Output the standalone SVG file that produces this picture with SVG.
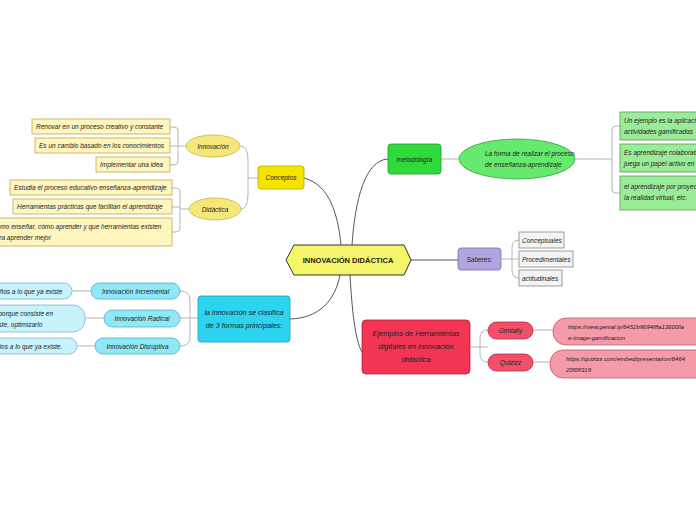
<svg xmlns="http://www.w3.org/2000/svg" width="696" height="520" viewBox="0 0 696 520">
<style>
text{font-family:"Liberation Sans",Arial,sans-serif;font-style:italic;font-size:6.5px;fill:#222}
.c{text-anchor:middle}
.main{fill:none;stroke:#555;stroke-width:1}
.br{fill:none;stroke:#b5b5b5;stroke-width:1}
.ylw{fill:#fff6bf;stroke:#b9ab50;stroke-width:0.8}
.cyn{fill:#c7f4fb;stroke:#7fb8c4;stroke-width:0.8}
.grn{fill:#9bec99;stroke:#5a9a58;stroke-width:0.8}
.gry{fill:#f4f4f4;stroke:#888;stroke-width:0.8}
</style>
<rect width="696" height="520" fill="#ffffff"/>
<g id="connectors">
<path class="main" d="M304,178 C330,185 338,215 341,245"/>
<path class="main" d="M352,245 C355,200 365,160 388,159"/>
<path class="main" d="M411,260 H458"/>
<path class="main" d="M340,275 C335,300 320,318 290,319"/>
<path class="main" d="M350,275 C352,310 355,340 362,352"/>
<path class="br" d="M240,146 Q248,146 248,160 V194 Q248,209 241,209 M248,178 H258"/>
<path class="br" d="M170,127 H174 Q178,127 178,131 V161 Q178,165 174,165 H170 M170,146 H186"/>
<path class="br" d="M172,188 H176 Q180,188 180,192 V228 Q180,232 176,232 H172 M172,207 H180 M180,209 H189"/>
<path class="br" d="M180,291 Q190,291 190,300 V337 Q190,346 180,346 M180,318 H198"/>
<path class="br" d="M72,291 H91 M85,318 H104 M77,346 H95"/>
<path class="br" d="M441,159 H459 M575,159 H612 M620,126 H616 Q612,126 612,130 V189 Q612,193 616,193 H620"/>
<path class="br" d="M519,240 Q512,240 512,248 V270 Q512,278 519,278 M501,259 H519"/>
<path class="br" d="M488,330 Q480,330 480,338 V354 Q480,362 488,362 M470,347 H488"/>
<path class="br" d="M533,330 H553 M533,362 H550"/>
</g>
<g id="center">
<polygon points="286,260 294,245 404,245 411,260 404,275 294,275" fill="#f5f56a" stroke="#333" stroke-width="1"/>
<text class="c" x="348" y="263" style="font-style:normal;font-weight:bold;font-size:7.5px">INNOVACIÓN DIDÁCTICA</text>
</g>
<g id="conceptos">
<rect x="258" y="166" width="46" height="23" rx="3" fill="#f5e400" stroke="#b8a800" stroke-width="0.8"/>
<text class="c" x="281" y="180">Conceptos</text>
</g>
<g id="innovacion">
<ellipse cx="213" cy="146" rx="27" ry="11" fill="#f7e77a" stroke="#c7b64a" stroke-width="0.8"/>
<text class="c" x="213" y="148.5">Innovación</text>
</g>
<g id="didactica">
<ellipse cx="215" cy="209" rx="26" ry="11" fill="#f7e77a" stroke="#c7b64a" stroke-width="0.8"/>
<text class="c" x="215" y="211.5">Didáctica</text>
</g>
<g id="i1"><rect class="ylw" x="32" y="119" width="138" height="15"/><text x="36" y="129">Renovar en un proceso creativo y constante</text></g>
<g id="i2"><rect class="ylw" x="35" y="138" width="135" height="15"/><text x="39" y="148">Es un cambio basado en los conocimientos</text></g>
<g id="i3"><rect class="ylw" x="96" y="157" width="74" height="15"/><text x="100" y="167">Implementar una idea</text></g>
<g id="d1"><rect class="ylw" x="10" y="180" width="162" height="15"/><text x="14" y="190">Estudia el proceso educativo enseñanza-aprendizaje</text></g>
<g id="d2"><rect class="ylw" x="13" y="199" width="159" height="15"/><text x="17" y="209">Herramientas prácticas que facilitan el aprendizaje</text></g>
<g id="d3"><rect class="ylw" x="-60" y="218" width="232" height="28"/><text x="-8" y="229">Cómo enseñar, cómo aprender y que herramientas existen</text><text x="-8" y="240">para aprender mejor</text></g>
<g id="clasifica">
<rect x="198" y="296" width="92" height="46" rx="3" fill="#2dd4ef" stroke="#1a9fb5" stroke-width="0.8"/>
<text class="c" x="244" y="315" style="font-size:7.2px">la innovación se clasifica</text>
<text class="c" x="244" y="328" style="font-size:7.2px">de 3 formas principales:</text>
</g>
<g id="incremental"><rect x="91" y="283" width="89" height="16" rx="8" fill="#8ee8f8" stroke="#4fb2c4" stroke-width="0.8"/><text class="c" x="135.5" y="293.5">Innovación Incremental</text></g>
<g id="radical"><rect x="104" y="310" width="76" height="17" rx="8.5" fill="#8ee8f8" stroke="#4fb2c4" stroke-width="0.8"/><text class="c" x="142" y="321">Innovación Radical</text></g>
<g id="disruptiva"><rect x="95" y="338" width="85" height="16" rx="8" fill="#8ee8f8" stroke="#4fb2c4" stroke-width="0.8"/><text class="c" x="137.5" y="348.5">Innovación Disruptiva</text></g>
<g id="inc1"><rect class="cyn" x="-60" y="283" width="132" height="16" rx="8"/><text x="-46" y="293.5">Cambios pequeños a lo que ya existe</text></g>
<g id="rad1"><rect class="cyn" x="-90" y="305" width="175" height="27" rx="12"/><text x="-60" y="316">Es la más compleja porque consiste en</text><text x="-60" y="327">reinventar lo que existe, optimizarlo</text></g>
<g id="dis1"><rect class="cyn" x="-60" y="338" width="137" height="16" rx="8"/><text x="-43" y="348.5">Grandes cambios a lo que ya existe.</text></g>
<g id="metodologia">
<rect x="388" y="144" width="53" height="30" rx="3" fill="#2edb3a" stroke="#1f9a28" stroke-width="0.8"/>
<text class="c" x="414.5" y="161.5">metodología</text>
</g>
<g id="forma">
<ellipse cx="517" cy="159" rx="58" ry="20" fill="#66ea6e" stroke="#3aa03f" stroke-width="0.8"/>
<text x="485" y="156">La forma de realizar el proceso</text>
<text x="485" y="167">de enseñanza-aprendizaje</text>
</g>
<g id="m1"><rect class="grn" x="620" y="112" width="90" height="28"/><text x="624" y="123">Un ejemplo es la aplicación de</text><text x="624" y="134">actividades gamificadas</text></g>
<g id="m2"><rect class="grn" x="620" y="144" width="90" height="28"/><text x="624" y="155">Es aprendizaje colaborativo</text><text x="624" y="166">juega un papel activo en</text></g>
<g id="m3"><rect class="grn" x="620" y="176" width="90" height="34"/><text x="624" y="189">el aprendizaje por proyectos</text><text x="624" y="200">la realidad virtual, etc.</text></g>
<g id="saberes">
<rect x="458" y="248" width="43" height="22" rx="3" fill="#b3a6e0" stroke="#7a6cb0" stroke-width="0.8"/>
<text class="c" x="479.5" y="261.5">Saberes:</text>
</g>
<g id="s1"><rect class="gry" x="519" y="232" width="45" height="16"/><text x="522" y="242.5">Conceptuales</text></g>
<g id="s2"><rect class="gry" x="519" y="251" width="54" height="16"/><text x="522" y="261.5">Procedimentales</text></g>
<g id="s3"><rect class="gry" x="519" y="270" width="43" height="16"/><text x="522" y="280.5">actitudinales</text></g>
<g id="ejemplos">
<rect x="362" y="320" width="108" height="54" rx="4" fill="#f23455" stroke="#b01e38" stroke-width="0.8"/>
<text class="c" x="416" y="336" style="font-size:7.4px">Ejemplos de Herramientas</text>
<text class="c" x="416" y="349" style="font-size:7.4px">digitales en innovación</text>
<text class="c" x="416" y="362" style="font-size:7.4px">didáctica</text>
</g>
<g id="genially"><rect x="488" y="322" width="45" height="17" rx="8.5" fill="#f2506a" stroke="#b52a42" stroke-width="0.8"/><text class="c" x="510.5" y="333">Genially</text></g>
<g id="quizizz"><rect x="488" y="354" width="45" height="17" rx="8.5" fill="#f2506a" stroke="#b52a42" stroke-width="0.8"/><text class="c" x="510.5" y="365">Quizizz</text></g>
<g id="g1"><rect x="553" y="318" width="180" height="27" rx="13" fill="#f59aa8" stroke="#c25a6a" stroke-width="0.8"/><text x="568" y="329" style="font-size:6px">https://view.genial.ly/6452b9694f8a13600lla</text><text x="568" y="340" style="font-size:6px">e-image-gamificacion</text></g>
<g id="q1"><rect x="550" y="350" width="180" height="28" rx="13" fill="#f59aa8" stroke="#c25a6a" stroke-width="0.8"/><text x="566" y="361" style="font-size:6px">https://quizizz.com/embed/presentation/6464</text><text x="566" y="372" style="font-size:6px">20f08319</text></g>
</svg>
